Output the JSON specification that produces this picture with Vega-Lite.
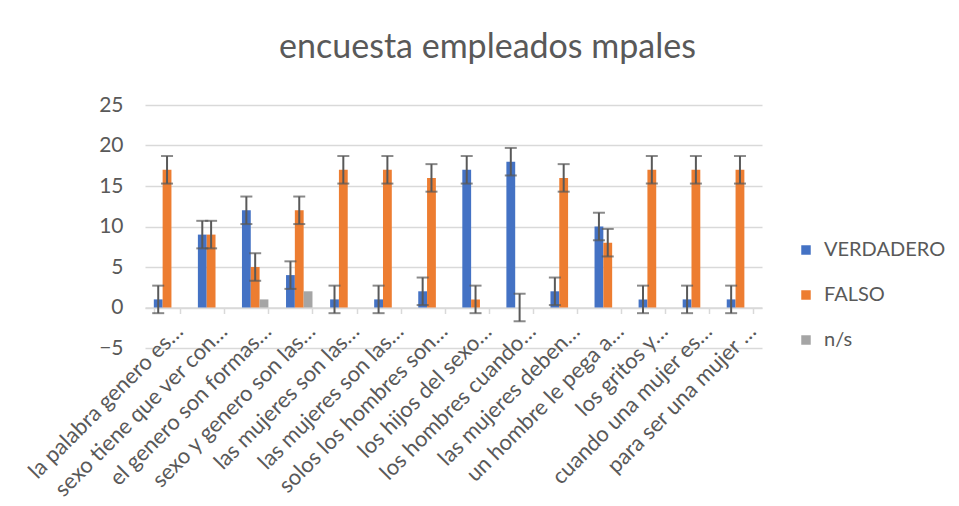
{
  "$schema": "https://vega.github.io/schema/vega-lite/v6.json",
  "autosize": "none",
  "width": 617,
  "height": 243,
  "padding": {"left": 145, "top": 105, "right": 197, "bottom": 158},
  "background": "white",
  "config": {"font": "Lato", "view": {"stroke": null}},
  "title": {"text": "encuesta empleados mpales", "anchor": "middle", "fontSize": 34, "font": "Lato", "fontWeight": "normal", "color": "#595959", "baseline": "alphabetic", "offset": 2, "dx": 34},
  "data": {"values": [
    {"q": "la palabra genero es…", "s": "VERDADERO", "v": 1, "lo": -0.7, "hi": 2.7},
    {"q": "la palabra genero es…", "s": "FALSO", "v": 17, "lo": 15.3, "hi": 18.7},
    {"q": "sexo tiene que ver con…", "s": "VERDADERO", "v": 9, "lo": 7.3, "hi": 10.7},
    {"q": "sexo tiene que ver con…", "s": "FALSO", "v": 9, "lo": 7.3, "hi": 10.7},
    {"q": "el genero son formas…", "s": "VERDADERO", "v": 12, "lo": 10.3, "hi": 13.7},
    {"q": "el genero son formas…", "s": "FALSO", "v": 5, "lo": 3.3, "hi": 6.7},
    {"q": "el genero son formas…", "s": "n/s", "v": 1},
    {"q": "sexo y genero son las…", "s": "VERDADERO", "v": 4, "lo": 2.3, "hi": 5.7},
    {"q": "sexo y genero son las…", "s": "FALSO", "v": 12, "lo": 10.3, "hi": 13.7},
    {"q": "sexo y genero son las…", "s": "n/s", "v": 2},
    {"q": "las mujeres son las…", "s": "VERDADERO", "v": 1, "lo": -0.7, "hi": 2.7},
    {"q": "las mujeres son las…", "s": "FALSO", "v": 17, "lo": 15.3, "hi": 18.7},
    {"q": "las mujeres son las…\u200b", "s": "VERDADERO", "v": 1, "lo": -0.7, "hi": 2.7},
    {"q": "las mujeres son las…\u200b", "s": "FALSO", "v": 17, "lo": 15.3, "hi": 18.7},
    {"q": "solos los hombres son…", "s": "VERDADERO", "v": 2, "lo": 0.3, "hi": 3.7},
    {"q": "solos los hombres son…", "s": "FALSO", "v": 16, "lo": 14.3, "hi": 17.7},
    {"q": "los hijos del sexo…", "s": "VERDADERO", "v": 17, "lo": 15.3, "hi": 18.7},
    {"q": "los hijos del sexo…", "s": "FALSO", "v": 1, "lo": -0.7, "hi": 2.7},
    {"q": "los hombres cuando…", "s": "VERDADERO", "v": 18, "lo": 16.3, "hi": 19.7},
    {"q": "los hombres cuando…", "s": "FALSO", "v": 0, "lo": -1.7, "hi": 1.7},
    {"q": "las mujeres deben…", "s": "VERDADERO", "v": 2, "lo": 0.3, "hi": 3.7},
    {"q": "las mujeres deben…", "s": "FALSO", "v": 16, "lo": 14.3, "hi": 17.7},
    {"q": "un hombre le pega a…", "s": "VERDADERO", "v": 10, "lo": 8.3, "hi": 11.7},
    {"q": "un hombre le pega a…", "s": "FALSO", "v": 8, "lo": 6.3, "hi": 9.7},
    {"q": "los gritos y…", "s": "VERDADERO", "v": 1, "lo": -0.7, "hi": 2.7},
    {"q": "los gritos y…", "s": "FALSO", "v": 17, "lo": 15.3, "hi": 18.7},
    {"q": "cuando una mujer es…", "s": "VERDADERO", "v": 1, "lo": -0.7, "hi": 2.7},
    {"q": "cuando una mujer es…", "s": "FALSO", "v": 17, "lo": 15.3, "hi": 18.7},
    {"q": "para ser una mujer …", "s": "VERDADERO", "v": 1, "lo": -0.7, "hi": 2.7},
    {"q": "para ser una mujer …", "s": "FALSO", "v": 17, "lo": 15.3, "hi": 18.7}
  ]},
  "encoding": {
    "x": {"field": "q", "type": "nominal", "sort": null,
      "scale": {"paddingInner": 0.4, "paddingOuter": 0.2},
      "axis": {"title": null, "offset": -40.5, "labelAngle": -45, "labelAlign": "right", "labelBaseline": "middle", "labelFontSize": 22, "labelColor": "#595959", "labelFont": "Lato", "labelPadding": 14, "labelOffset": 12, "labelLimit": 0, "domainColor": "#d9d9d9", "domainWidth": 1.5, "tickColor": "#d9d9d9", "tickWidth": 1.5, "tickSize": 6, "tickBand": "extent"}},
    "xOffset": {"field": "s", "type": "nominal", "sort": ["VERDADERO", "FALSO", "n/s"]}
  },
  "layer": [
    {
      "mark": {"type": "bar"},
      "encoding": {
        "y": {"field": "v", "type": "quantitative",
          "scale": {"domain": [-5, 25], "nice": false},
          "axis": {"title": null, "values": [-5, 0, 5, 10, 15, 20, 25], "domain": false, "ticks": false, "gridColor": "#d9d9d9", "gridWidth": 1.5, "labelFontSize": 21, "labelColor": "#595959", "labelPadding": 22}},
        "color": {"field": "s", "type": "nominal", "sort": ["VERDADERO", "FALSO", "n/s"],
          "scale": {"domain": ["VERDADERO", "FALSO", "n/s"], "range": ["#4472C4", "#ED7D31", "#A5A5A5"]},
          "legend": {"title": null, "orient": "none", "legendX": 651, "legendY": 135, "symbolType": "square", "symbolSize": 90, "symbolStrokeWidth": 0, "labelFontSize": 20, "labelColor": "#595959", "labelOffset": 8, "rowPadding": 25}}
      }
    },
    {
      "transform": [{"filter": "isValid(datum.lo)"}],
      "mark": {"type": "rule", "color": "#595959", "strokeWidth": 2},
      "encoding": {"y": {"field": "lo", "type": "quantitative"}, "y2": {"field": "hi"}}
    },
    {
      "transform": [{"filter": "isValid(datum.lo)"}],
      "mark": {"type": "tick", "color": "#595959", "thickness": 2, "size": 12, "orient": "horizontal"},
      "encoding": {"y": {"field": "lo", "type": "quantitative"}}
    },
    {
      "transform": [{"filter": "isValid(datum.hi)"}],
      "mark": {"type": "tick", "color": "#595959", "thickness": 2, "size": 12, "orient": "horizontal"},
      "encoding": {"y": {"field": "hi", "type": "quantitative"}}
    }
  ]
}
